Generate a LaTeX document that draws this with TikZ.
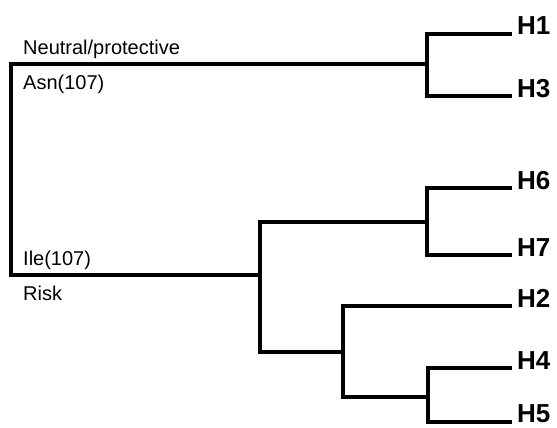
\documentclass[tikz,border=0pt]{standalone}
\usepackage{fontspec}
\setmainfont{Liberation Sans}
\begin{document}
\begin{tikzpicture}[x=1pt,y=-1pt,
  branch/.style={line width=3.8pt, line cap=rect, line join=miter},
  leaf/.style={font=\bfseries\fontsize{26}{26}\selectfont, anchor=base west, inner sep=0pt},
  tag/.style={font=\fontsize{20}{20}\selectfont, anchor=base west, inner sep=0pt}]
\useasboundingbox (0,0) rectangle (557,428);

% internal vertices
\coordinate (rootT) at (11,64);
\coordinate (rootB) at (11,275);
\coordinate (cAt) at (427,34);
\coordinate (cAm) at (427,64);
\coordinate (cAb) at (427,96);
\coordinate (nBm) at (260,275);
\coordinate (nBt) at (260,222);
\coordinate (nBb) at (260,352);
\coordinate (cCt) at (427,188);
\coordinate (cCm) at (427,222);
\coordinate (cCb) at (427,255);
\coordinate (nDt) at (343,306);
\coordinate (nDm) at (343,352);
\coordinate (nDb) at (343,397);
\coordinate (cEt) at (428,368);
\coordinate (cEm) at (428,397);
\coordinate (cEb) at (428,422);

% leaf ends
\coordinate (e1) at (510,34);
\coordinate (e3) at (510,96);
\coordinate (e6) at (510,188);
\coordinate (e7) at (510,255);
\coordinate (e2) at (510,306);
\coordinate (e4) at (510,368);
\coordinate (e5) at (510,422);

% tree
\draw[branch] (cAm) -- (rootT) -- (rootB) -- (nBm);
\draw[branch] (e1) -- (cAt) -- (cAb) -- (e3);
\draw[branch] (cCm) -- (nBt) -- (nBb) -- (nDm);
\draw[branch] (e6) -- (cCt) -- (cCb) -- (e7);
\draw[branch] (e2) -- (nDt) -- (nDb) -- (cEm);
\draw[branch] (e4) -- (cEt) -- (cEb) -- (e5);

% haplotype labels
\node[leaf] (h1) at (517,35) {H1};
\node[leaf] (h3) at (517,97) {H3};
\node[leaf] (h6) at (517,189) {H6};
\node[leaf] (h7) at (517,256) {H7};
\node[leaf] (h2) at (517,307) {H2};
\node[leaf] (h4) at (517,369) {H4};
\node[leaf] (h5) at (517,422) {H5};

% branch annotations
\node[tag] (neu) at (23,55) {Neutral/protective};
\node[tag] (asn) at (23,89) {Asn(107)};
\node[tag] (ile) at (23,265) {Ile(107)};
\node[tag] (risk) at (23,300) {Risk};
\end{tikzpicture}
\end{document}
